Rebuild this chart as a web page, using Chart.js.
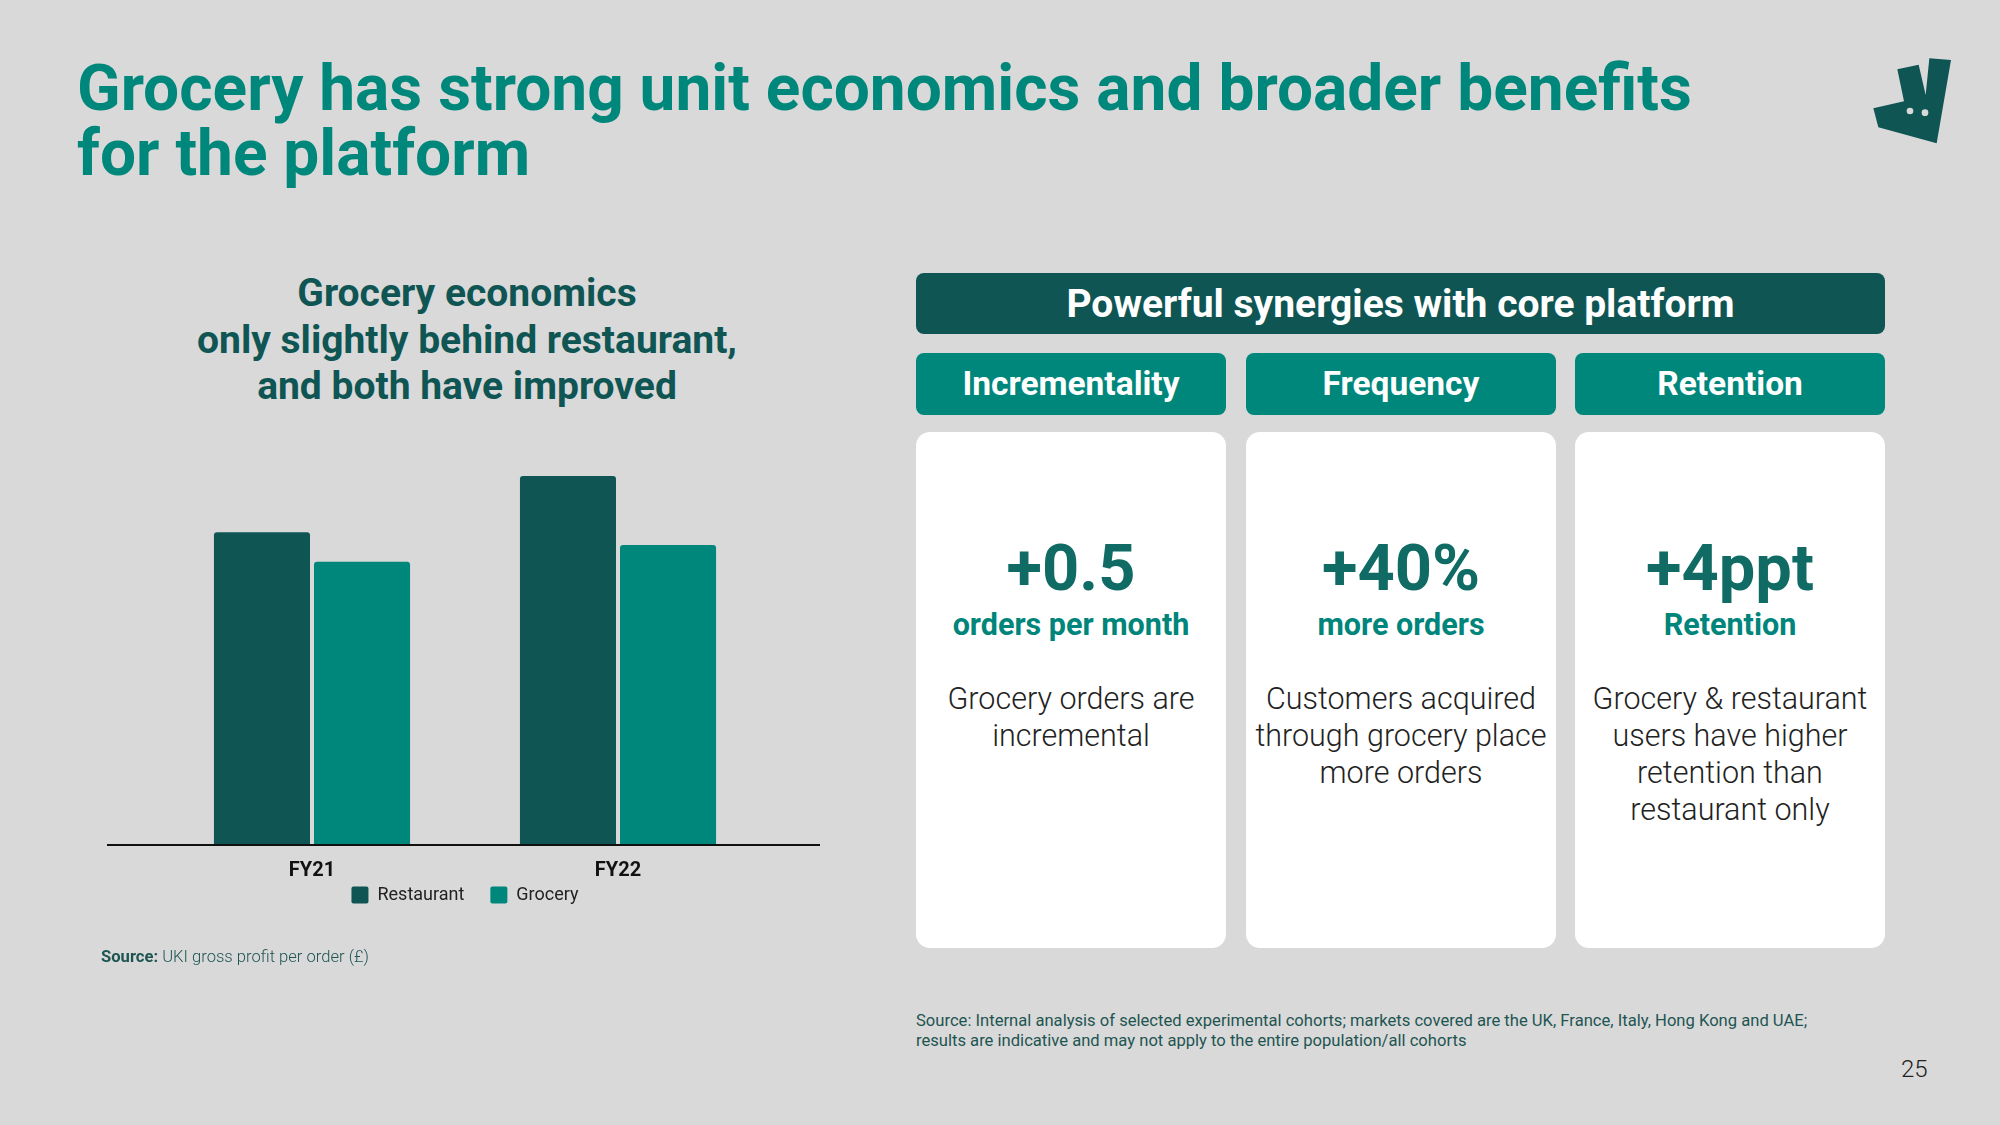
<!DOCTYPE html>
<html>
<head>
<meta charset="utf-8">
<script src="https://cdn.jsdelivr.net/npm/chart.js@4.4.1/dist/chart.umd.min.js"></script>
<style>
  body { margin: 0; background: #d9d9d9; font-family: Roboto, "Noto Sans", sans-serif; }
  #page { position: relative; width: 2000px; height: 1125px; overflow: hidden; background: #d9d9d9; }
  .abs { position: absolute; }
  #titulo { left: 77px; top: 56px; font-size: 64px; line-height: 65px; font-weight: 700; color: #00877b; }
  #subtitulo { left: 117px; width: 700px; top: 270px; text-align: center; font-size: 39px; line-height: 46.5px; font-weight: 700; color: #0e5553; }
  #chartBox { left: 80px; top: 420px; width: 770px; height: 538px; }
  #fuente1 { left: 101px; top: 947px; font-size: 16.6px; color: #1e5552; font-weight: 300; }
  #fuente1 b { font-weight: 700; }
  #cabecera { left: 916px; top: 273px; width: 969px; height: 61px; background: #0e5553; border-radius: 8px; color: #fff; font-size: 39px; font-weight: 700; line-height: 63px; text-align: center; }
  .pestana { top: 353px; width: 310px; height: 62px; background: #00877b; border-radius: 8px; color: #fff; font-size: 33.5px; font-weight: 700; line-height: 62px; text-align: center; }
  .tarjeta { top: 432px; width: 310px; height: 516px; background: #fff; border-radius: 14px; text-align: center; }
  .cifra { position: absolute; left: 0; right: 0; top: 101px; font-size: 65px; line-height: 70px; font-weight: 700; color: #0f6b64; }
  .sub { position: absolute; left: -10px; right: -10px; top: 176px; font-size: 30.5px; line-height: 34px; font-weight: 700; color: #00857a; }
  .desc { position: absolute; left: -10px; right: -10px; top: 248px; font-size: 30.5px; line-height: 37px; font-weight: 300; color: #222; }
  #fuente2 { left: 916px; top: 1011px; font-size: 16.6px; line-height: 20px; color: #1e5552; }
  #pagina { left: 1901px; top: 1055px; font-size: 24px; font-weight: 300; color: #222; }
</style>
</head>
<body>
<div id="page">
  <div id="titulo" class="abs">Grocery has strong unit economics and broader benefits<br>for the platform</div>

  <svg class="abs" style="left:1840px;top:40px" width="130" height="120" viewBox="0 0 390 360">
    <polygon points="172,88 236,74 257,165 268,55 333,60 290,310 115,262 100,205 192,184" fill="#0e5553"/>
    <circle cx="210" cy="213" r="10" fill="#d9d9d9"/>
    <circle cx="255" cy="218" r="10" fill="#d9d9d9"/>
  </svg>

  <div id="subtitulo" class="abs">Grocery economics<br>only slightly behind restaurant,<br>and both have improved</div>

  <div id="chartBox" class="abs"><canvas id="grafico"></canvas></div>

  <div id="fuente1" class="abs"><b>Source:</b> UKI gross profit per order (£)</div>

  <div id="cabecera" class="abs">Powerful synergies with core platform</div>

  <div class="abs pestana" style="left:916px">Incrementality</div>
  <div class="abs pestana" style="left:1246px">Frequency</div>
  <div class="abs pestana" style="left:1575px">Retention</div>

  <div class="abs tarjeta" style="left:916px">
    <div class="cifra">+0.5</div>
    <div class="sub">orders per month</div>
    <div class="desc">Grocery orders are<br>incremental</div>
  </div>
  <div class="abs tarjeta" style="left:1246px">
    <div class="cifra">+40%</div>
    <div class="sub">more orders</div>
    <div class="desc">Customers acquired<br>through grocery place<br>more orders</div>
  </div>
  <div class="abs tarjeta" style="left:1575px">
    <div class="cifra">+4ppt</div>
    <div class="sub">Retention</div>
    <div class="desc">Grocery &amp; restaurant<br>users have higher<br>retention than<br>restaurant only</div>
  </div>

  <div id="fuente2" class="abs">Source: Internal analysis of selected experimental cohorts; markets covered are the UK, France, Italy, Hong Kong and UAE;<br>results are indicative and may not apply to the entire population/all cohorts</div>
  <div id="pagina" class="abs">25</div>
</div>

<script>
// Datos (beneficio bruto por pedido, valores estimados del grafico)
const anios = ["FY21", "FY22"]
const restaurante = [3.39, 4.0]
const supermercado = [3.07, 3.25]

const colorRestaurante = "#0e5553"
const colorSupermercado = "#00877b"

Chart.defaults.font.family = "Roboto"

// linea base mas larga que el area del grafico
const lineaBase = {
    id: "lineaBase",
    afterDatasetsDraw(chart) {
        const ctx = chart.ctx
        const area = chart.chartArea
        const y = chart.scales.y.getPixelForValue(0)
        ctx.save()
        ctx.strokeStyle = "#111"
        ctx.lineWidth = 2
        ctx.beginPath()
        ctx.moveTo(area.left - 52, y)
        ctx.lineTo(area.right + 49, y)
        ctx.stroke()
        ctx.restore()
    }
}

// acerca la leyenda a las etiquetas del eje x
const subirLeyenda = {
    id: "subirLeyenda",
    afterLayout(chart) {
        const dy = chart.scales.x.height - 15
        chart.legend.top -= dy
        chart.legend.bottom -= dy
    }
}

const config = {
    type: "bar",
    data: {
        labels: anios,
        datasets: [
            { label: "Restaurant", data: restaurante, backgroundColor: colorRestaurante },
            { label: "Grocery", data: supermercado, backgroundColor: colorSupermercado }
        ]
    },
    options: {
        responsive: true,
        maintainAspectRatio: false,
        animation: false,
        layout: { padding: { left: 79, right: 79, top: 19, bottom: 7 } },
        datasets: {
            bar: {
                categoryPercentage: 0.654,
                barPercentage: 0.96,
                borderRadius: { topLeft: 3, topRight: 3 },
                borderSkipped: "bottom"
            }
        },
        scales: {
            x: {
                grid: { display: false, drawTicks: false },
                border: { display: false },
                ticks: { color: "#111", font: { size: 20, weight: "bold" }, padding: 14 }
            },
            y: {
                display: false,
                min: 0,
                max: 4.4
            }
        },
        plugins: {
            legend: {
                position: "bottom",
                labels: {
                    color: "#222",
                    font: { size: 18 },
                    boxWidth: 17,
                    boxHeight: 17,
                    padding: 26,
                    useBorderRadius: true,
                    borderRadius: 2
                }
            },
            tooltip: { enabled: false }
        }
    },
    plugins: [lineaBase, subirLeyenda]
}

new Chart(document.querySelector("#grafico"), config)
</script>
</body>
</html>
